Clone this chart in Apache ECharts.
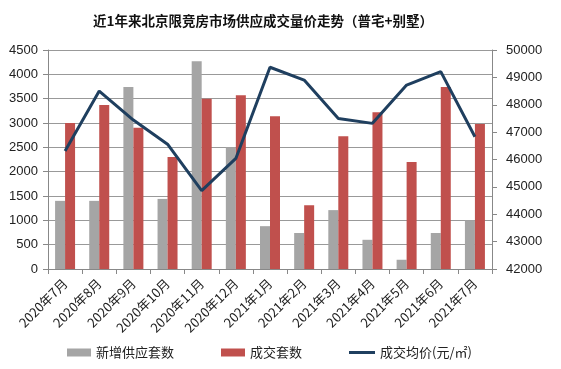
<!DOCTYPE html>
<html><head><meta charset="utf-8">
<script src="https://cdn.jsdelivr.net/npm/echarts@6/dist/echarts.min.js"></script>
<style>html,body{margin:0;padding:0;background:#fff}#c{width:561px;height:369px}</style>
</head><body><div id="c"></div>
<script>
const categories = ['2020年7月','2020年8月','2020年9月','2020年10月','2020年11月','2020年12月','2021年1月','2021年2月','2021年3月','2021年4月','2021年5月','2021年6月','2021年7月'];
const supply = [1400,1400,3740,1440,4270,2500,880,740,1210,600,190,740,1000];
const deals = [3000,3370,2900,2300,3500,3570,3140,1310,2730,3220,2200,3740,2980];
const price = [46310,48500,47440,46560,44860,46040,49370,48900,47500,47320,48720,49210,46830];
const leftTicks = {min:0,max:4500,interval:500};
const rightTicks = {min:42000,max:50000,interval:1000};
const FONT = '"Liberation Sans","Noto Sans CJK SC",sans-serif';
const CJK = '"Noto Sans CJK SC",sans-serif';
const chart = echarts.init(document.getElementById('c'));
const legendText = {fontSize:13,color:'#222',fontFamily:CJK};
chart.setOption({
  animation:false,
  textStyle:{fontFamily:FONT},
  title:{text:'近1年来北京限竞房市场供应成交量价走势（普宅+别墅）',left:88,top:9,
    textStyle:{fontSize:13.5,fontWeight:'bold',color:'#111',fontFamily:CJK}},
  legend:[
    {top:346,left:67,padding:0,itemWidth:24,itemHeight:8,textStyle:legendText,
      data:[{name:'新增供应套数',icon:'rect'}]},
    {top:346,left:221,padding:0,itemWidth:24,itemHeight:8,textStyle:legendText,
      data:[{name:'成交套数',icon:'rect'}]},
    {top:346,left:349,padding:0,itemWidth:26,itemHeight:3,itemStyle:{},textStyle:legendText,
      data:[{name:'成交均价(元/㎡)',icon:'rect'}]}
  ],
  grid:{left:48,right:69,top:50,bottom:100},
  xAxis:{type:'category',data:categories,
    axisLine:{lineStyle:{color:'#888'}},axisTick:{show:true,lineStyle:{color:'#888'},length:5},
    axisLabel:{rotate:45,fontSize:13,color:'#222',interval:0,margin:12,fontFamily:CJK}},
  yAxis:[
    {type:'value',min:leftTicks.min,max:leftTicks.max,interval:leftTicks.interval,
      axisLine:{show:true,lineStyle:{color:'#888'}},axisTick:{show:true,lineStyle:{color:'#888'}},
      axisLabel:{fontSize:13,color:'#222',margin:10,formatter:v=>String(v)},
      splitLine:{lineStyle:{color:'#999'}}},
    {type:'value',min:rightTicks.min,max:rightTicks.max,interval:rightTicks.interval,position:'right',
      axisLine:{show:true,lineStyle:{color:'#888'}},axisTick:{show:true,lineStyle:{color:'#888'}},
      axisLabel:{fontSize:13,color:'#222',margin:14,formatter:v=>String(v)},
      splitLine:{show:false}}
  ],
  series:[
    {name:'新增供应套数',type:'bar',data:supply,barWidth:10,barGap:'0%',itemStyle:{color:'#A5A5A5'}},
    {name:'成交套数',type:'bar',data:deals,barWidth:10,itemStyle:{color:'#C0504D'}},
    {name:'成交均价(元/㎡)',type:'line',yAxisIndex:1,data:price,symbol:'none',
      lineStyle:{color:'#1F3F5F',width:3},itemStyle:{color:'#1F3F5F'}}
  ]
});
</script></body></html>
